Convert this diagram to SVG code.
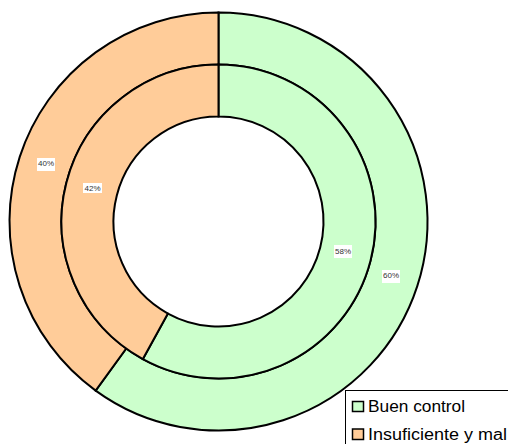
<svg xmlns="http://www.w3.org/2000/svg" width="508" height="444" viewBox="0 0 508 444">
<style>
.seg{stroke:#000;stroke-width:2;stroke-linejoin:miter}
.g{fill:#CCFFCC}
.o{fill:#FFCC99}
.lblbg{fill:#fff}
.lbl{font-family:"Liberation Sans",Arial,sans-serif;font-size:8px;fill:#333;text-anchor:middle}
.leg{font-family:"Liberation Sans",Arial,sans-serif;font-size:16px;fill:#000}
.mk{stroke:#000;stroke-width:1.5}
</style>
<rect width="508" height="444" fill="#fff"/>
<g id="outer-buen">
<path class="seg g" d="M218.5,12.5 A209,209 0 1 1 95.65,390.58 L126.22,348.52 A157,157 0 1 0 218.5,64.5 Z"/>
</g>
<g id="outer-insuf">
<path class="seg o" d="M95.65,390.58 A209,209 0 0 1 218.5,12.5 L218.5,64.5 A157,157 0 0 0 126.22,348.52 Z"/>
</g>
<g id="inner-buen">
<path class="seg g" d="M218.5,64.5 A157,157 0 1 1 142.87,359.08 L167.92,313.51 A105,105 0 1 0 218.5,116.5 Z"/>
</g>
<g id="inner-insuf">
<path class="seg o" d="M142.87,359.08 A157,157 0 0 1 218.5,64.5 L218.5,116.5 A105,105 0 0 0 167.92,313.51 Z"/>
</g>
<g id="labels">
<rect class="lblbg" x="37" y="158" width="18" height="13"/>
<text class="lbl" x="46" y="166">40%</text>
<rect class="lblbg" x="83" y="183" width="19" height="10"/>
<text class="lbl" x="92.5" y="191">42%</text>
<rect class="lblbg" x="334" y="245" width="18" height="13"/>
<text class="lbl" x="343" y="253.5">58%</text>
<rect class="lblbg" x="382" y="270" width="18" height="13"/>
<text class="lbl" x="391" y="278">60%</text>
</g>
<g id="legend">
<rect x="345.5" y="390.5" width="200" height="100" fill="#fff" stroke="#000" stroke-width="1"/>
<rect class="mk g" x="352.5" y="401.5" width="11" height="10"/>
<text class="leg" x="368" y="412" textLength="97" lengthAdjust="spacingAndGlyphs">Buen control</text>
<rect class="mk o" x="352.5" y="429" width="11" height="10.5"/>
<text class="leg" x="368" y="440" textLength="139" lengthAdjust="spacingAndGlyphs">Insuficiente y mal</text>
</g>
</svg>
